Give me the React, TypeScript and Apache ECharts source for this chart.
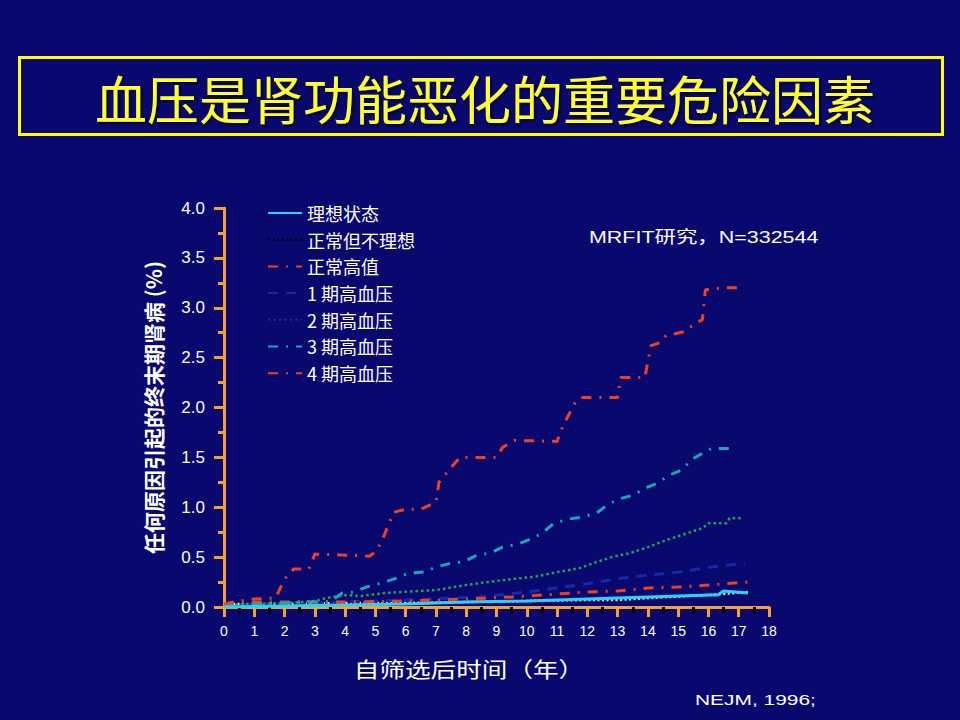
import React, { useEffect, useRef } from "react";
import * as echarts from "echarts";

const TITLE = "血压是肾功能恶化的重要危险因素";
const X_NAME = "自筛选后时间（年）";
const Y_NAME = "任何原因引起的终末期肾病 (%)";
const STUDY = "MRFIT研究，N=332544";
const SOURCE = "NEJM, 1996;";

const seriesNames = ["理想状态", "正常但不理想", "正常高值", "1 期高血压", "2 期高血压", "3 期高血压", "4 期高血压"];

const idealT = [0, 2, 4, 6, 8, 10, 12, 14, 16, 16.3, 16.5, 17.3];
const idealV = [0.0, 0.01, 0.02, 0.03, 0.05, 0.06, 0.08, 0.1, 0.12, 0.12, 0.16, 0.14];

const normalT = [0, 2, 4, 6, 8, 10, 12, 13, 14, 16, 17.3];
const normalV = [0.03, 0.03, 0.04, 0.04, 0.05, 0.06, 0.07, 0.07, 0.09, 0.12, 0.15];

const highNormalT = [0, 1, 2, 4, 6, 8, 9.5, 11, 12, 13, 14, 15, 16, 17.3];
const highNormalV = [0.03, 0.05, 0.05, 0.05, 0.06, 0.08, 0.1, 0.13, 0.15, 0.16, 0.19, 0.2, 0.22, 0.25];

const stage1T = [0, 2, 4, 6, 8.4, 10, 11.7, 13.4, 15, 16.1, 17.2];
const stage1V = [0.02, 0.03, 0.05, 0.07, 0.1, 0.15, 0.22, 0.3, 0.35, 0.4, 0.44];

const stage2T = [0, 1, 2, 3, 3.4, 4, 4.5, 5.3, 7, 8, 8.45, 9.5, 10.2, 11, 11.75, 12.2, 12.8, 13.4, 14, 14.6, 15.3, 15.8, 16, 16.6, 16.7, 17.1];
const stage2V = [0.02, 0.03, 0.04, 0.06, 0.09, 0.12, 0.11, 0.14, 0.17, 0.22, 0.24, 0.28, 0.3, 0.35, 0.39, 0.44, 0.5, 0.54, 0.6, 0.67, 0.74, 0.79, 0.84, 0.84, 0.89, 0.89];

const stage3T = [0, 1, 2, 2.5, 3.5, 3.9, 4.3, 4.7, 5.2, 5.7, 6.1, 6.6, 7, 7.5, 7.9, 8.35, 8.8, 9.2, 9.7, 10.2, 10.5, 10.9, 11.35, 11.8, 12.3, 12.6, 13, 13.5, 13.9, 14.3, 14.7, 15.1, 15.45, 15.8, 16.1, 16.8];
const stage3V = [0.02, 0.03, 0.04, 0.05, 0.05, 0.14, 0.15, 0.2, 0.24, 0.29, 0.34, 0.35, 0.4, 0.44, 0.45, 0.52, 0.54, 0.6, 0.63, 0.69, 0.74, 0.84, 0.88, 0.9, 0.94, 1.01, 1.08, 1.12, 1.19, 1.24, 1.32, 1.37, 1.48, 1.54, 1.59, 1.59];

const stage4T = [0, 0.5, 1, 1.7, 2, 2.3, 2.8, 3, 4, 4.8, 5, 5.2, 5.6, 6, 6.5, 7, 7.1, 7.5, 7.8, 9, 9.2, 9.6, 11, 11.2, 11.6, 11.8, 13, 13.1, 13.9, 14.1, 14.4, 14.6, 15.2, 15.6, 15.8, 15.9, 16.5, 17.2];
const stage4V = [0.03, 0.06, 0.08, 0.09, 0.28, 0.38, 0.38, 0.53, 0.52, 0.51, 0.55, 0.65, 0.95, 0.98, 0.98, 1.05, 1.25, 1.4, 1.5, 1.5, 1.6, 1.67, 1.66, 1.82, 2.05, 2.1, 2.1, 2.3, 2.3, 2.62, 2.65, 2.72, 2.76, 2.85, 2.88, 3.18, 3.2, 3.2];

const xTicks = { min: 0, max: 18, interval: 1 };
const yTicks = { min: 0, max: 4, interval: 0.5 };

const zip = (t: number[], v: number[]) => t.map((x, i) => [x, v[i]]);

const FONT = "'Liberation Sans', Arial, 'Noto Sans CJK SC', sans-serif";
const CJK = "'Noto Sans CJK SC', 'Liberation Sans', sans-serif";
const ORANGE = "#F5A030";
const BG = "#08086E";

export default function App() {
  const ref = useRef<HTMLDivElement>(null);
  useEffect(() => {
    document.body.style.margin = "0";
    const chart = echarts.init(ref.current!, null, { renderer: "svg" });
    const mk = (name: string, t: number[], v: number[], color: string, type: any, width: number, z: number) => ({
      name,
      type: "line",
      data: zip(t, v),
      symbol: "none",
      showSymbol: false,
      z,
      lineStyle: { color, width, type },
      itemStyle: { color },
    });
    const dashDot = [10, 8, 2, 8];
    chart.setOption({
      animation: false,
      backgroundColor: BG,
      textStyle: { fontFamily: FONT },
      grid: { left: 224, right: 191, top: 208, bottom: 113 },
      legend: {
        orient: "vertical",
        left: 262,
        top: 199,
        itemWidth: 34,
        itemHeight: 14,
        itemGap: 8.7,
        itemStyle: { opacity: 0 },
        textStyle: { color: "#FFFFFF", fontSize: 18, fontFamily: CJK },
        data: [
          { name: seriesNames[0] },
          { name: seriesNames[1], lineStyle: { color: "#000000" } },
          { name: seriesNames[2] },
          { name: seriesNames[3] },
          { name: seriesNames[4], lineStyle: { color: "#1828A8" } },
          { name: seriesNames[5] },
          { name: seriesNames[6] },
        ],
      },
      xAxis: {
        type: "value",
        min: xTicks.min,
        max: xTicks.max,
        interval: xTicks.interval,
        offset: 2,
        axisLine: { show: true, lineStyle: { color: ORANGE, width: 3 } },
        axisTick: { show: true, length: 10, lineStyle: { color: ORANGE, width: 3 } },
        minorTick: { show: true, splitNumber: 2, length: 7, lineStyle: { color: "#000000", width: 3 } },
        splitLine: { show: false },
        minorSplitLine: { show: false },
        axisLabel: { color: "#FFFFFF", fontSize: 14, margin: 15, fontFamily: FONT },
      },
      yAxis: {
        type: "value",
        min: yTicks.min,
        max: yTicks.max,
        interval: yTicks.interval,
        offset: 5,
        name: Y_NAME,
        nameLocation: "middle",
        nameGap: 56,
        nameRotate: 90,
        nameTextStyle: { color: "#FFFFFF", fontSize: 21, fontWeight: "bold", fontFamily: CJK },
        axisLine: { show: true, lineStyle: { color: ORANGE, width: 3 } },
        axisTick: { show: true, length: 10, lineStyle: { color: ORANGE, width: 3 } },
        minorTick: { show: true, splitNumber: 2, length: 6, lineStyle: { color: ORANGE, width: 3 } },
        splitLine: { show: false },
        minorSplitLine: { show: false },
        axisLabel: {
          color: "#FFFFFF",
          fontSize: 17,
          margin: 14,
          fontFamily: FONT,
          formatter: (v: number) => v.toFixed(1),
        },
      },
      graphic: [
        {
          type: "rect",
          shape: { x: 19.5, y: 57.5, width: 923, height: 77 },
          style: { fill: "none", stroke: "#FFFF00", lineWidth: 3 },
        },
        {
          type: "text",
          x: 485,
          y: 97,
          style: {
            text: TITLE,
            fill: "#FFFF33",
            fontSize: 52,
            fontFamily: CJK,
            align: "center",
            verticalAlign: "middle",
            textShadowColor: "rgba(0,0,0,0.6)",
            textShadowOffsetX: 2,
            textShadowOffsetY: 2,
            textShadowBlur: 2,
          },
        },
        {
          type: "text",
          x: 469,
          y: 668,
          scaleX: 1.22,
          style: { text: X_NAME, fill: "#FFFFFF", fontSize: 21, fontFamily: CJK, align: "center", verticalAlign: "middle" },
        },
        {
          type: "text",
          x: 589,
          y: 237,
          scaleX: 1.3,
          style: { text: STUDY, fill: "#FFFFFF", fontSize: 16.5, fontFamily: FONT, align: "left", verticalAlign: "middle" },
        },
        {
          type: "text",
          x: 695,
          y: 700,
          scaleX: 1.35,
          style: { text: SOURCE, fill: "#FFFFFF", fontSize: 15.5, fontFamily: FONT, align: "left", verticalAlign: "middle" },
        },
      ],
      series: [
        mk(seriesNames[1], normalT, normalV, "#E8E8E8", [2, 2.5], 2.5, 3),
        mk(seriesNames[3], stage1T, stage1V, "#1828A8", [10, 8], 3, 4),
        mk(seriesNames[2], highNormalT, highNormalV, "#F04020", dashDot, 3, 5),
        mk(seriesNames[4], stage2T, stage2V, "#20A848", [2.5, 3], 2.5, 6),
        mk(seriesNames[5], stage3T, stage3V, "#1AA5B8", dashDot, 3, 7),
        mk(seriesNames[6], stage4T, stage4V, "#F04020", dashDot, 3, 8),
        mk(seriesNames[0], idealT, idealV, "#2AD4F0", "solid", 3, 9),
      ],
    });
    return () => chart.dispose();
  }, []);
  return <div ref={ref} style={{ width: 960, height: 720 }} />;
}
